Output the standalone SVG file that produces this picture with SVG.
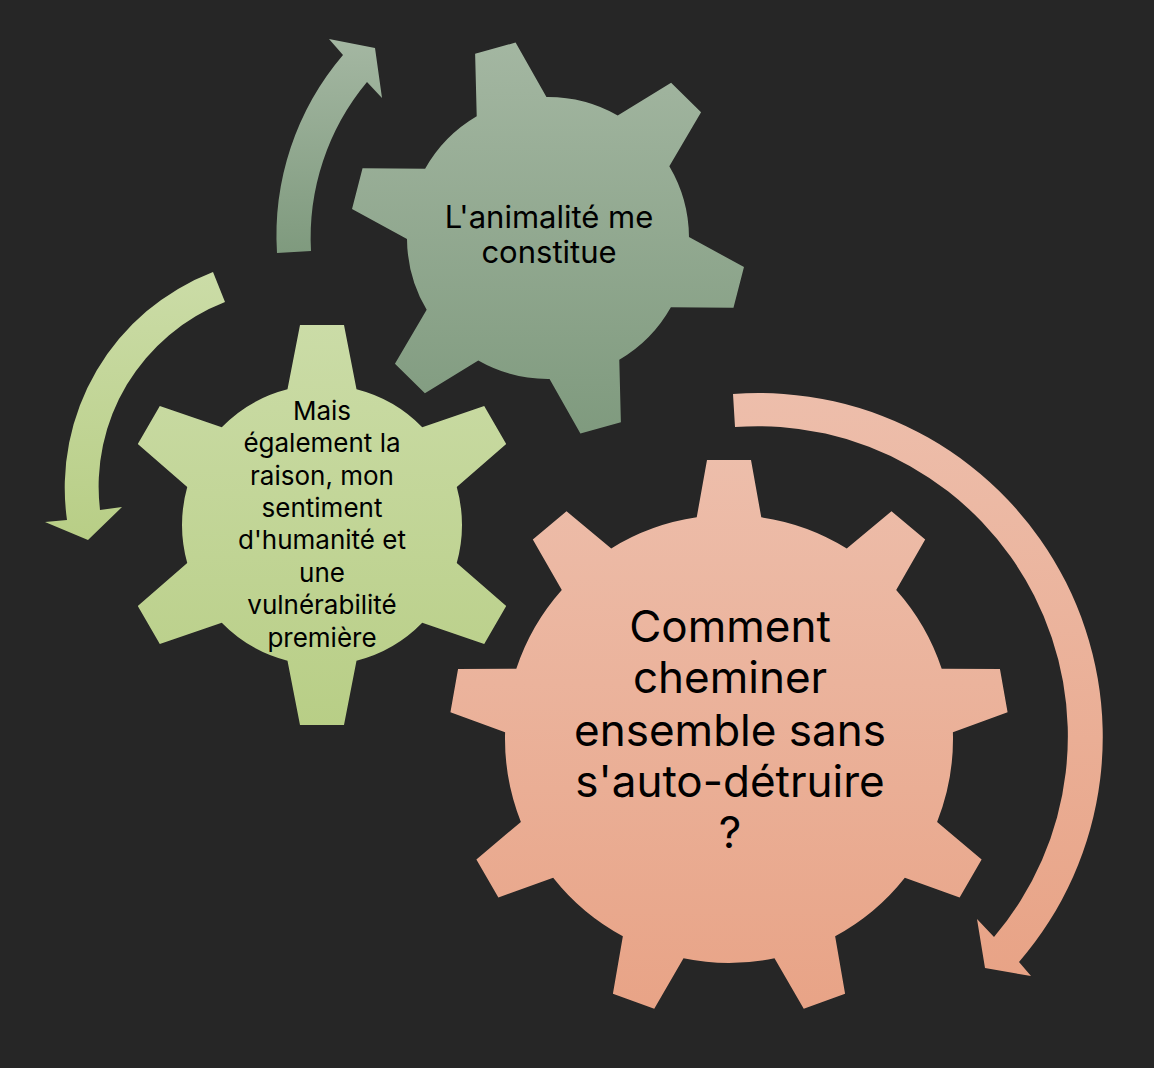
<svg xmlns="http://www.w3.org/2000/svg" xmlns:xlink="http://www.w3.org/1999/xlink" width="1154" height="1068" viewBox="0 0 1154 1068">
  <defs>
    <linearGradient id="gOrange" x1="0" y1="0" x2="0" y2="1">
      <stop offset="0" stop-color="#edbeab"/>
      <stop offset="1" stop-color="#e8a386"/>
    </linearGradient>
    <linearGradient id="gGrey" x1="0" y1="0" x2="0" y2="1">
      <stop offset="0" stop-color="#a4b7a2"/>
      <stop offset="1" stop-color="#7f9a7e"/>
    </linearGradient>
    <linearGradient id="gGreen" x1="0" y1="0" x2="0" y2="1">
      <stop offset="0" stop-color="#cbdca7"/>
      <stop offset="1" stop-color="#b8ce86"/>
    </linearGradient>
    <clipPath id="clipBig">
      <circle cx="729" cy="739" r="224"/>
      <polygon points="695,527 707,460 751,460 763,527" transform="rotate(0 729 739)"/>
      <polygon points="695,527 707,460 751,460 763,527" transform="rotate(40 729 739)"/>
      <polygon points="695,527 707,460 751,460 763,527" transform="rotate(80 729 739)"/>
      <polygon points="695,527 707,460 751,460 763,527" transform="rotate(120 729 739)"/>
      <polygon points="695,527 707,460 751,460 763,527" transform="rotate(160 729 739)"/>
      <polygon points="695,527 707,460 751,460 763,527" transform="rotate(200 729 739)"/>
      <polygon points="695,527 707,460 751,460 763,527" transform="rotate(240 729 739)"/>
      <polygon points="695,527 707,460 751,460 763,527" transform="rotate(280 729 739)"/>
      <polygon points="695,527 707,460 751,460 763,527" transform="rotate(320 729 739)"/>
    </clipPath>
    <clipPath id="clipTop">
      <circle cx="548" cy="238" r="141"/>
      <polygon points="510,109 527,41 569,41 586,109" transform="rotate(-15.5 548 238)"/>
      <polygon points="510,109 527,41 569,41 586,109" transform="rotate(44.5 548 238)"/>
      <polygon points="510,109 527,41 569,41 586,109" transform="rotate(104.5 548 238)"/>
      <polygon points="510,109 527,41 569,41 586,109" transform="rotate(164.5 548 238)"/>
      <polygon points="510,109 527,41 569,41 586,109" transform="rotate(224.5 548 238)"/>
      <polygon points="510,109 527,41 569,41 586,109" transform="rotate(284.5 548 238)"/>
    </clipPath>
    <clipPath id="clipGreen">
      <circle cx="322" cy="525" r="140"/>
      <polygon points="286,397 300,325 344,325 358,397" transform="rotate(0 322 525)"/>
      <polygon points="286,397 300,325 344,325 358,397" transform="rotate(60 322 525)"/>
      <polygon points="286,397 300,325 344,325 358,397" transform="rotate(120 322 525)"/>
      <polygon points="286,397 300,325 344,325 358,397" transform="rotate(180 322 525)"/>
      <polygon points="286,397 300,325 344,325 358,397" transform="rotate(240 322 525)"/>
      <polygon points="286,397 300,325 344,325 358,397" transform="rotate(300 322 525)"/>
    </clipPath>
  </defs>
  <style>
    .lbl { font-family: Inter, "Liberation Sans", "DejaVu Sans", sans-serif; fill: #000000; text-anchor: middle; }
  </style>
  <rect x="0" y="0" width="1154" height="1068" fill="#262626"/>

  <g id="connectors">
    <path id="arrow-grey" fill="url(#gGrey)" d="M 277,253 A 278 278 0 0 1 343,55 L 329,39 L 375,48 L 382,98 L 367,82 A 243 243 0 0 0 311,251 Z"/>
    <path id="arrow-green" fill="url(#gGreen)" d="M 213,272 A 231 231 0 0 0 67,520 L 45,522 L 88,540 L 122,507 L 100,510 A 198 198 0 0 1 225,302 Z"/>
    <path id="arrow-orange" fill="url(#gOrange)" d="M 733,394 A 344 344 0 0 1 1019,962 L 1031,976 L 985,968 L 977,919 L 994,937 A 310 310 0 0 0 735,427 Z"/>
  </g>

  <g id="node-animalite">
    <rect x="340" y="36" width="420" height="402" fill="url(#gGrey)" clip-path="url(#clipTop)"/>
    <text class="lbl" font-size="31" x="549" y="228">L'animalité me</text>
    <text class="lbl" font-size="31" x="549" y="263">constitue</text>
  </g>

  <g id="node-raison">
    <rect x="130" y="322" width="385" height="406" fill="url(#gGreen)" clip-path="url(#clipGreen)"/>
    <text class="lbl" font-size="26" x="322" y="420">Mais</text>
    <text class="lbl" font-size="26" x="322" y="452">également la</text>
    <text class="lbl" font-size="26" x="322" y="485">raison, mon</text>
    <text class="lbl" font-size="26" x="322" y="517">sentiment</text>
    <text class="lbl" font-size="26" x="322" y="549">d'humanité et</text>
    <text class="lbl" font-size="26" x="322" y="582">une</text>
    <text class="lbl" font-size="26" x="322" y="614">vulnérabilité</text>
    <text class="lbl" font-size="26" x="322" y="647">première</text>
  </g>

  <g id="node-cheminer">
    <rect x="440" y="455" width="580" height="562" fill="url(#gOrange)" clip-path="url(#clipBig)"/>
    <text class="lbl" font-size="44" x="730" y="642">Comment</text>
    <text class="lbl" font-size="44" x="730" y="693">cheminer</text>
    <text class="lbl" font-size="44" x="730" y="746">ensemble sans</text>
    <text class="lbl" font-size="44" x="730" y="797">s'auto-détruire</text>
    <text class="lbl" font-size="44" x="730" y="848">?</text>
  </g>
</svg>
